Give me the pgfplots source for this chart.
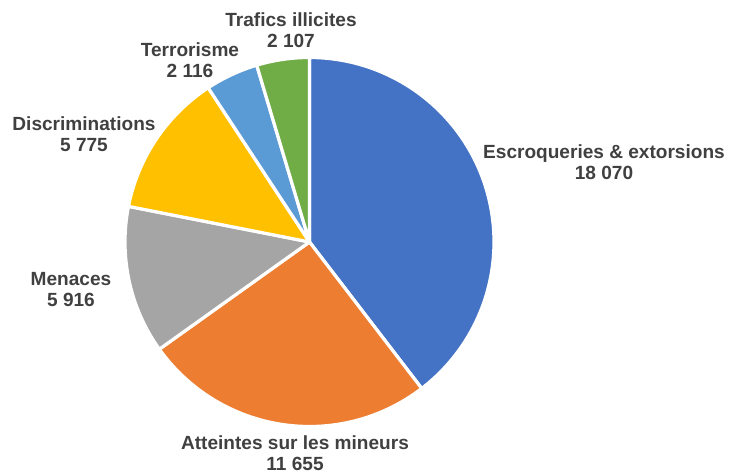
\documentclass[border=0pt]{standalone}
\usepackage{pgfplots}
\pgfplotsset{compat=1.18}
\usepackage{fontspec}
\setmainfont{Liberation Sans}
\definecolor{c1}{HTML}{4472C4}
\definecolor{c2}{HTML}{ED7D31}
\definecolor{c3}{HTML}{A5A5A5}
\definecolor{c4}{HTML}{FFC000}
\definecolor{c5}{HTML}{5B9BD5}
\definecolor{c6}{HTML}{70AD47}
\definecolor{txt}{HTML}{404040}
\tikzset{lab/.style={font=\fontsize{14.3}{15.6}\selectfont\bfseries, text=txt, align=center, inner sep=0pt}}
% values
\def\vA{18070}\def\vB{11655}\def\vC{5916}\def\vD{5775}\def\vE{2116}\def\vF{2107}
\edef\tot{\fpeval{\vA+\vB+\vC+\vD+\vE+\vF}}
\edef\aA{90}
\edef\aB{\fpeval{90-360*(\vA)/\tot}}
\edef\aC{\fpeval{90-360*(\vA+\vB)/\tot}}
\edef\aD{\fpeval{90-360*(\vA+\vB+\vC)/\tot}}
\edef\aE{\fpeval{90-360*(\vA+\vB+\vC+\vD)/\tot}}
\edef\aF{\fpeval{90-360*(\vA+\vB+\vC+\vD+\vE)/\tot}}
\edef\aG{-270}
\def\cx{309.5}\def\cy{231}\def\R{184.5}
\begin{document}
\begin{tikzpicture}
\begin{axis}[
  width=555pt, height=354.75pt, scale only axis,
  xmin=0, xmax=740, ymin=0, ymax=473,
  hide axis, clip=false,
  every axis plot/.append style={draw=white, line width=2.4pt, line join=round, samples=100, variable=\t, no markers},
]
\path (axis cs:0,0) rectangle (axis cs:740,473);
\addplot[fill=c1, domain=\aB:\aA] ({\cx+\R*cos(t)},{\cy+\R*sin(t)}) -- (axis cs:\cx,\cy) -- cycle;
\addplot[fill=c2, domain=\aC:\aB] ({\cx+\R*cos(t)},{\cy+\R*sin(t)}) -- (axis cs:\cx,\cy) -- cycle;
\addplot[fill=c3, domain=\aD:\aC] ({\cx+\R*cos(t)},{\cy+\R*sin(t)}) -- (axis cs:\cx,\cy) -- cycle;
\addplot[fill=c4, domain=\aE:\aD] ({\cx+\R*cos(t)},{\cy+\R*sin(t)}) -- (axis cs:\cx,\cy) -- cycle;
\addplot[fill=c5, domain=\aF:\aE] ({\cx+\R*cos(t)},{\cy+\R*sin(t)}) -- (axis cs:\cx,\cy) -- cycle;
\addplot[fill=c6, domain=\aG:\aF] ({\cx+\R*cos(t)},{\cy+\R*sin(t)}) -- (axis cs:\cx,\cy) -- cycle;
\node[lab] at (axis cs:604,311) {Escroqueries \& extorsions\\18 070};
\node[lab] at (axis cs:295,20) {Atteintes sur les mineurs\\11 655};
\node[lab] at (axis cs:71,183.5) {Menaces\\5 916};
\node[lab] at (axis cs:84,338.5) {Discriminations\\5 775};
\node[lab] at (axis cs:190,412.5) {Terrorisme\\2 116};
\node[lab] at (axis cs:291,443) {Trafics illicites\\2 107};
\end{axis}
\end{tikzpicture}
\end{document}
